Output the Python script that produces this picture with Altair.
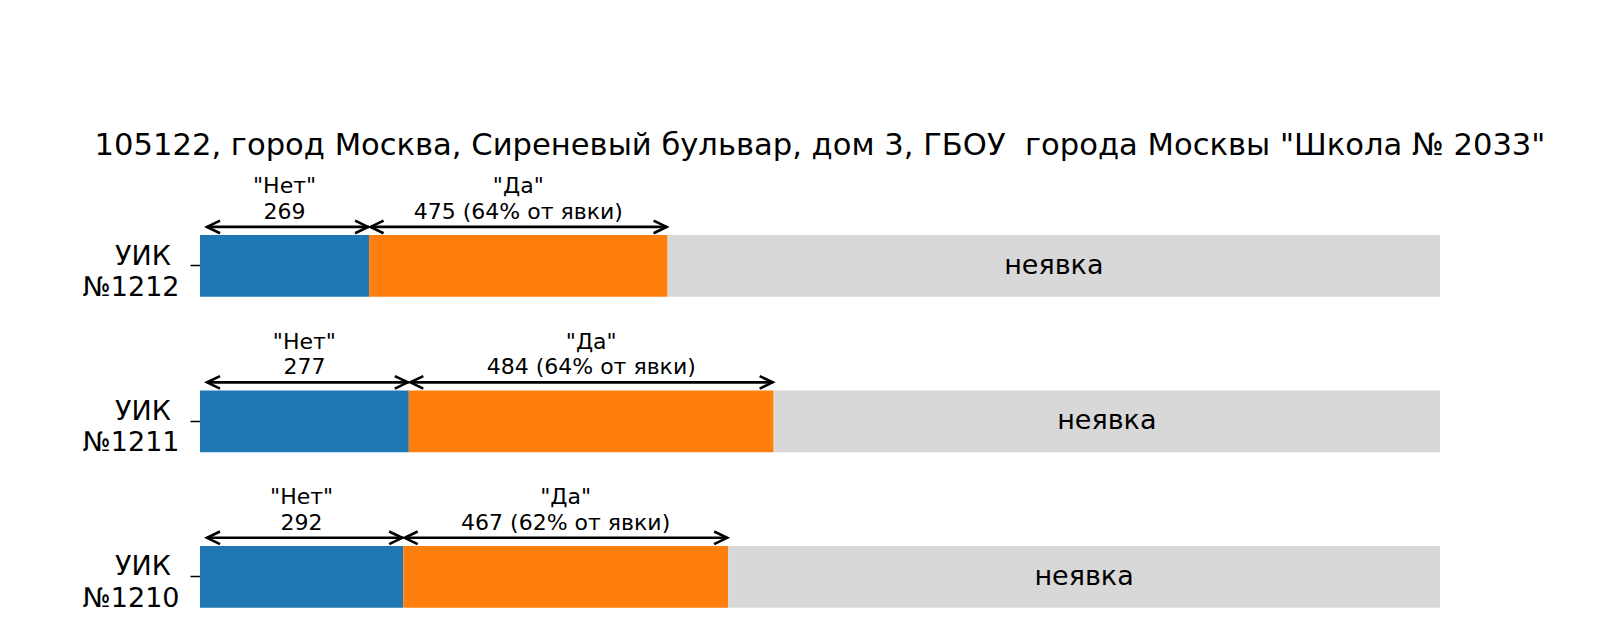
import altair as alt
import pandas as pd

# ---- data ----
uik_ids = ["1212", "1211", "1210"]
no_votes = [269, 277, 292]
yes_votes = [475, 484, 467]
no_show = [1229, 884, 1023]
segments = ['"Нет"', '"Да"', "неявка"]
seg_colors = ["#1f77b4", "#ff7f0e", "#d8d8d8"]
no_show_label = "неявка"
title_text = '105122, город Москва, Сиреневый бульвар, дом 3, ГБОУ\u00a0 города Москвы "Школа № 2033"'

FONT = "DejaVu Sans"

bar_rows, arrow_rows, gap_rows = [], [], []
order = []
for u, n, y, s in zip(uik_ids, no_votes, yes_votes, no_show):
    total = n + y + s
    lab = "УИК\u00a0\u200b|№" + u
    order.append(lab)
    a = n / total
    b = (n + y) / total
    pct = round(100 * y / (n + y))
    bar_rows += [
        dict(uik=lab, seg=segments[0], x0=0.0, x1=a),
        dict(uik=lab, seg=segments[1], x0=a, x1=b),
        dict(uik=lab, seg=segments[2], x0=b, x1=1.0),
    ]
    arrow_rows += [
        dict(uik=lab, seg=segments[0], x0=0.0, x1=a, mid=a / 2,
             top=segments[0], bottom=str(n)),
        dict(uik=lab, seg=segments[1], x0=a, x1=b, mid=(a + b) / 2,
             top=segments[1], bottom=f"{y} ({pct}% от явки)"),
    ]
    gap_rows.append(dict(uik=lab, mid=(b + 1) / 2, text=no_show_label))

bars_df = pd.DataFrame(bar_rows)
arrows_df = pd.DataFrame(arrow_rows)
gap_df = pd.DataFrame(gap_rows)

yscale = alt.Scale(paddingInner=0.603, paddingOuter=0.31, align=0.675)
xscale = alt.Scale(domain=[0, 1])
yaxis = alt.Axis(
    title=None, domain=False, grid=False, ticks=True, tickSize=10,
    tickColor="black", tickWidth=1.5, labelFont=FONT, labelFontSize=27,
    labelColor="black", labelPadding=11, labelLineHeight=31.5, labelOffset=-9.4,
    labelExpr="split(datum.label, '|')",
)

Y = alt.Y("uik:N", sort=order, scale=yscale, axis=yaxis)

bars = alt.Chart(bars_df).mark_bar().encode(
    y=Y,
    x=alt.X("x0:Q", scale=xscale, axis=None),
    x2="x1:Q",
    color=alt.Color("seg:N", scale=alt.Scale(domain=segments, range=seg_colors), legend=None),
)

AOFF = -39
LW = 2.6
left_head = "M2,-0.97L0,0L2,0.97"
right_head = "M-2,-0.97L0,0L-2,0.97"

base_a = alt.Chart(arrows_df)
no_f = alt.datum.seg == segments[0]
yes_f = alt.datum.seg == segments[1]

rule_no = base_a.transform_filter(no_f).mark_rule(
    color="black", strokeWidth=LW, yOffset=AOFF, xOffset=7).encode(
    y=alt.Y("uik:N", sort=order), x=alt.X("x0:Q"), x2="x1:Q")
rule_yes = base_a.transform_filter(yes_f).mark_rule(
    color="black", strokeWidth=LW, yOffset=AOFF, xOffset=1.5, x2Offset=-1).encode(
    y=alt.Y("uik:N", sort=order), x=alt.X("x0:Q"), x2="x1:Q")

def head(filt, field, shape, xoff):
    return base_a.transform_filter(filt).mark_point(
        shape=shape, size=169, filled=False, stroke="black", strokeWidth=LW,
        opacity=1, yOffset=AOFF, xOffset=xoff).encode(
        y=alt.Y("uik:N", sort=order), x=alt.X(f"{field}:Q"))

heads = [
    head(no_f, "x0", left_head, 7),
    head(no_f, "x1", right_head, -1),
    head(yes_f, "x0", left_head, 1.5),
    head(yes_f, "x1", right_head, -1),
]

txt_top = base_a.mark_text(font=FONT, fontSize=22, color="black",
                           baseline="alphabetic", dy=-72.5).encode(
    y=alt.Y("uik:N", sort=order), x=alt.X("mid:Q"), text="top:N")
txt_bot = base_a.mark_text(font=FONT, fontSize=22, color="black",
                           baseline="alphabetic", dy=-47).encode(
    y=alt.Y("uik:N", sort=order), x=alt.X("mid:Q"), text="bottom:N")

gap_txt = alt.Chart(gap_df).mark_text(font=FONT, fontSize=27, color="black",
                                      baseline="middle").encode(
    y=alt.Y("uik:N", sort=order), x=alt.X("mid:Q"), text="text:N")

chart = alt.layer(bars, rule_no, rule_yes, *heads, txt_top, txt_bot, gap_txt).properties(
    width=1240, height=469,
    title=alt.Title(title_text, font=FONT, fontSize=30.6, fontWeight="normal",
                    color="black", anchor="middle", baseline="alphabetic", offset=-16),
    autosize=alt.AutoSizeParams(type="none"),
    padding={"left": 200, "top": 170, "right": 160, "bottom": 1},
).configure(background="white").configure_view(strokeWidth=0, stroke="transparent")

chart.save("out.html", embed_options={"renderer": "svg", "actions": False})
